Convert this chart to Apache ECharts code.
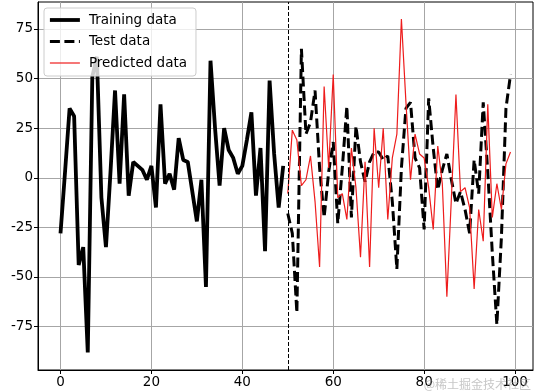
<!DOCTYPE html>
<html><head><meta charset="utf-8">
<script src="https://cdn.jsdelivr.net/npm/echarts@6/dist/echarts.min.js"></script>
<style>html,body{margin:0;padding:0;background:#fff}#c{width:535px;height:391px}</style>
</head><body><div id="c"></div>
<script>
// x positions start at these indices (one point per integer step)
const trainStart = 0;
const testStart = 50;
const trainValues = [-28, 3, 35, 31, -44, -35, -88, 51, 61, -10,
  -35, 3, 44, -3, 42, -9, 8, 6, 4, -1,
  6, -15, 37, -3, 2, -6, 20, 9, 8, -7,
  -22, -1, -55, 59, 25, -4, 25, 14, 10, 2,
  6, 19, 33, -9, 15, -37, 49, 12, -15, 6];
const testValues = [-18, -28, -68, 65, 22, 28, 44, 5, -20, 3,
  18, -23, 5, 36, -20, 26, 8, -2, 8, 13,
  13, 9, 11, -12, -46, 5, 35, 38, 10, 5,
  -26, 40, 15, -6, 4, 12, -1, -13, -7, -16,
  -28, 9, -8, 38, 3, -38, -74, -30, 35, 52];
const predValues = [-8, 24, 19, -4, -1, 11, -12, -45, 46, 5,
  52, -10, -8, -21, 15, -5, -40, 8, -45, 25,
  -5, 25, -21, 10, 22, 80, 38, -1, 22, 12,
  10, -5, -26, 16, -3, -60, -10, 42, -7, -5,
  -15, -56, -16, -32, 37, -20, -3, -16, 7, 13];
const xTicks = [0, 20, 40, 60, 80, 100];
const yTicks = [-75, -50, -25, 0, 25, 50, 75];
const splitX = 50;
const seriesNames = ['Training data', 'Test data', 'Predicted data'];

const toPairs = (start, vals) => vals.map((v, i) => [start + i, v]);
const font = 'DejaVu Sans';
const clear = 'rgba(0,0,0,0)';
const trainLine = {color: '#000', width: 3.8};
const testLine = {color: '#000', width: 3, type: [10, 4.5]};
const predLine = {color: '#ee1c1c', width: 1.2};
const chart = echarts.init(document.getElementById('c'), null, {renderer: 'canvas'});
const axisCommon = {
  type: 'value',
  axisLine: {show: true, onZero: false, lineStyle: {color: '#000', width: 1}},
  axisTick: {show: true, inside: false, length: 4, lineStyle: {color: '#000', width: 1}},
  axisLabel: {color: '#000', fontSize: 13.5, fontFamily: font},
  splitLine: {show: true, lineStyle: {color: '#a6a6a6', width: 1}}
};
chart.setOption({
  animation: false,
  backgroundColor: '#fff',
  grid: {left: 38, right: 2, top: 2, bottom: 21, show: true, borderColor: '#000', borderWidth: 1},
  xAxis: Object.assign({}, axisCommon, {
    min: -4.95, max: 103.95,
    axisTick: Object.assign({}, axisCommon.axisTick, {customValues: xTicks}),
    axisLabel: Object.assign({}, axisCommon.axisLabel, {customValues: xTicks, margin: 5})
  }),
  yAxis: Object.assign({}, axisCommon, {
    min: -96.9, max: 88.6,
    axisTick: Object.assign({}, axisCommon.axisTick, {customValues: yTicks}),
    axisLabel: Object.assign({}, axisCommon.axisLabel, {customValues: yTicks, margin: 5})
  }),
  legend: {
    orient: 'vertical', left: 44, top: 8,
    data: [
      {name: seriesNames[0], lineStyle: trainLine},
      {name: seriesNames[1], lineStyle: testLine},
      {name: seriesNames[2], lineStyle: predLine}
    ],
    itemWidth: 30, itemHeight: 12, itemGap: 7.5,
    padding: [5, 9, 6, 4],
    itemStyle: {opacity: 0},
    backgroundColor: 'rgba(255,255,255,0.8)',
    borderColor: '#cccccc', borderWidth: 1, borderRadius: 3,
    textStyle: {color: '#000', fontSize: 13.5, fontFamily: font, padding: [0, 0, 0, 4]},
    z: 10
  },
  series: [
    {
      name: seriesNames[0], type: 'line', data: toPairs(trainStart, trainValues),
      symbol: 'none', showSymbol: false,
      lineStyle: trainLine, itemStyle: {color: clear},
      markLine: {
        silent: true, symbol: ['none', 'none'], label: {show: false},
        lineStyle: {color: '#000', width: 1, type: [4, 2]},
        data: [{xAxis: splitX}]
      }
    },
    {
      name: seriesNames[1], type: 'line', data: toPairs(testStart, testValues),
      symbol: 'none', showSymbol: false,
      lineStyle: testLine, itemStyle: {color: clear}
    },
    {
      name: seriesNames[2], type: 'line', data: toPairs(testStart, predValues),
      symbol: 'none', showSymbol: false,
      lineStyle: predLine, itemStyle: {color: clear}
    }
  ],
  graphic: [{
    type: 'text', right: 4, bottom: 1,
    style: {text: '@稀土掘金技术社区', fill: 'rgba(160,160,160,0.6)', font: '12px "Noto Sans CJK SC"'},
    z: 20
  }]
});
</script></body></html>
